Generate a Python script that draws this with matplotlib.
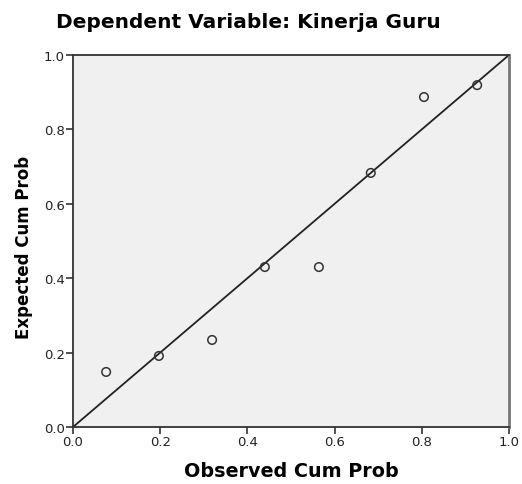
import matplotlib
matplotlib.use("Agg")
import matplotlib.pyplot as plt

plt.rcParams['font.family'] = ['DejaVu Sans']

observed = [0.076, 0.197, 0.319, 0.440, 0.564, 0.683, 0.805, 0.927]
expected = [0.148, 0.191, 0.234, 0.430, 0.430, 0.683, 0.887, 0.919]
ticks = [0.0, 0.2, 0.4, 0.6, 0.8, 1.0]
tick_labels = ["0.0", "0.2", "0.4", "0.6", "0.8", "1.0"]

fig = plt.figure(figsize=(5.22, 4.85), dpi=100)
ax = fig.add_axes([73/522, 1-428/485, 436/522, 372/485])
ax.set_facecolor('#F0F0F0')
ax.plot([0, 1], [0, 1], color='#222222', lw=1.3, zorder=2)
ax.scatter(observed, expected, s=38, facecolors='none', edgecolors='#333333', linewidths=1.1, zorder=3)
ax.set_xlim(0, 1)
ax.set_ylim(0, 1)
ax.set_xticks(ticks)
ax.set_xticklabels(tick_labels)
ax.set_yticks(ticks)
ax.set_yticklabels(tick_labels)
ax.tick_params(direction='out', length=5, width=1.2, color='#333333', labelsize=9.5, labelcolor='#222222', pad=1)
for s in ax.spines.values():
    s.set_color('#333333')
    s.set_linewidth(1.3)
ax.spines['right'].set_color('#777777')
ax.spines['right'].set_linewidth(2)
ax.set_xlabel('Observed Cum Prob', fontsize=13.8, fontweight='bold', labelpad=9)
ax.set_ylabel('Expected Cum Prob', fontsize=12, fontweight='bold')
ax.yaxis.set_label_coords(-0.092, 0.485)
fig.text(248/522, 1-22/485, 'Dependent Variable: Kinerja Guru', fontsize=14.5, fontweight='bold', ha='center', va='center')
fig.savefig('out.png', dpi=100)
